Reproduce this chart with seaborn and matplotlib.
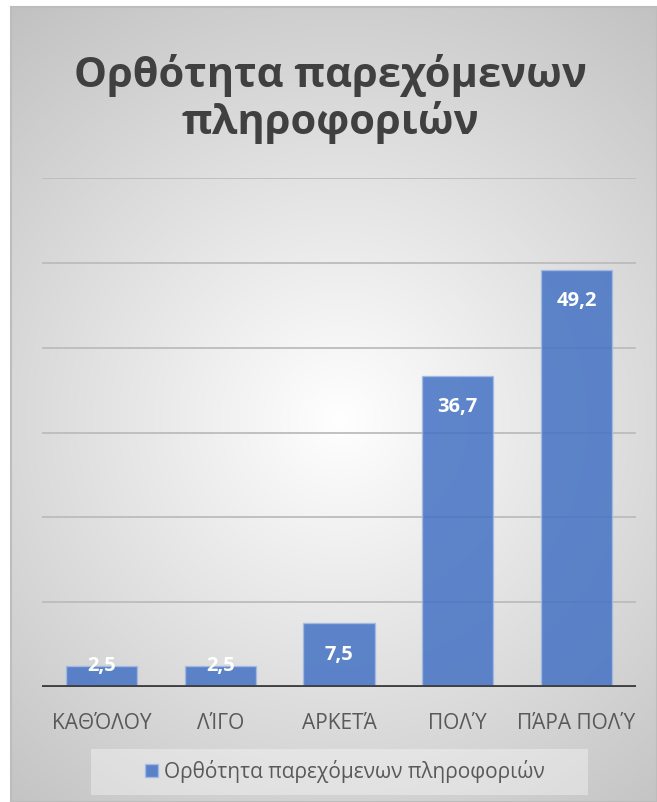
import numpy as np
import pandas as pd
import matplotlib.pyplot as plt
import matplotlib.patches as mpatches
import seaborn as sns

sns.set_theme(style="white")
plt.rcParams['font.family'] = ['Open Sans', 'DejaVu Sans']

# data
categories = ['ΚΑΘΌΛΟΥ', 'ΛΊΓΟ', 'ΑΡΚΕΤΆ', 'ΠΟΛΎ', 'ΠΆΡΑ ΠΟΛΎ']
values = [2.5, 2.5, 7.5, 36.7, 49.2]
series_name = 'Ορθότητα παρεχόμενων πληροφοριών'
title = 'Ορθότητα παρεχόμενων\nπληροφοριών'

W, H = 657, 803
fig = plt.figure(figsize=(W / 100, H / 100), dpi=100)
fig.patch.set_facecolor('white')

# radial gradient background of the chart area
bg = fig.add_axes([11 / W, 0, 1 - 11 / W, 1 - 8 / H], zorder=0)
yy, xx = np.mgrid[8:H, 11:W]
r = np.hypot(xx - 340, yy - 420) / 527.0
shade = np.clip(255 - 62 * r, 180, 255) / 255.0
bg.imshow(np.dstack([shade, shade, shade]), aspect='auto', extent=[0, 1, 0, 1])
bg.set_xticks([])
bg.set_yticks([])
for s in bg.spines.values():
    s.set_color('#bdbdbd')
    s.set_linewidth(1.5)

# main axes
ax = fig.add_axes([42 / W, 115 / H, 594 / W, 509 / H], zorder=1)
ax.patch.set_alpha(0)
df = pd.DataFrame({'cat': categories, 'val': values})
sns.barplot(data=df, x='cat', y='val', color='#4472C4', saturation=1, width=0.6,
            ax=ax, alpha=0.85, edgecolor='#a3bbe6', linewidth=1, zorder=3)
ax.set_ylim(0, 60)
ax.set_yticks(np.arange(0, 61, 10))
ax.set_yticklabels([])
ax.yaxis.grid(True, color='#bcbcbc', linewidth=1.3, zorder=0)
ax.set_axisbelow(True)
for s in ax.spines.values():
    s.set_visible(False)
ax.axhline(0, color='#404040', linewidth=3.5, zorder=4)
ax.set_xlabel('')
ax.set_ylabel('')
ax.tick_params(axis='x', length=0, pad=18, labelsize=15, labelcolor='#595959')
ax.tick_params(axis='y', length=0)

# value labels
for i, v in enumerate(values):
    yl = v - 3.6 if v > 5 else v + 0.1
    ax.text(i, yl, f'{v:.1f}'.replace('.', ','), ha='center', va='center',
            color='white', fontsize=14.5, fontweight='bold', zorder=5)

fig.text(0.503, 1 - 99 / H, title, ha='center', va='center', fontsize=30,
         fontweight='bold', color='#404040', linespacing=1.15)

# legend
fig.patches.append(mpatches.Rectangle((91 / W, 7 / H), 497 / W, 46 / H,
                   transform=fig.transFigure, facecolor='white', alpha=0.35,
                   edgecolor='none', zorder=2))
handle = mpatches.Patch(facecolor='#4472C4', alpha=0.85, edgecolor='#a3bbe6')
fig.legend([handle], [series_name], loc='center', bbox_to_anchor=(345 / W, 31 / H),
           frameon=False, fontsize=15, labelcolor='#595959', handlelength=0.6,
           handleheight=0.6, handletextpad=0.3)

fig.savefig('out.png', dpi=100)
